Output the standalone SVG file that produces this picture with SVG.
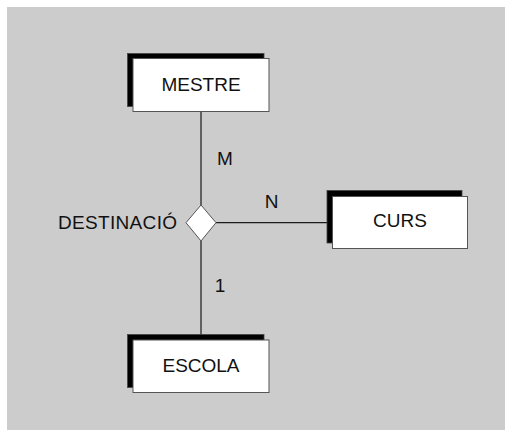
<svg xmlns="http://www.w3.org/2000/svg" width="505" height="430" viewBox="0 0 505 430">
<style>
.bg{fill:#cccccc}
.shadow{fill:#000000;stroke:#444444;stroke-width:0.8}
.box{fill:#ffffff;stroke:#555555;stroke-width:1}
.lbl{font-family:"Liberation Sans","DejaVu Sans",sans-serif;font-size:19px;fill:#111111}
.conn{stroke:#1a1a1a;stroke-width:1.2;fill:none}
.dia{fill:#ffffff;stroke:#555555;stroke-width:1}
</style>
<rect class="bg" x="7" y="7" width="498" height="423"/>
<g id="connectors">
<line class="conn" x1="201" y1="112" x2="201" y2="205"/>
<line class="conn" x1="201" y1="241" x2="201" y2="340"/>
<line class="conn" x1="216" y1="222.7" x2="332.5" y2="222.7"/>
<text class="lbl" x="225" y="164.5" text-anchor="middle">M</text>
<text class="lbl" x="271.5" y="207.5" text-anchor="middle">N</text>
<text class="lbl" x="220" y="291.5" text-anchor="middle">1</text>
</g>
<g id="mestre">
<rect class="shadow" x="127.5" y="53.5" width="136.5" height="53"/>
<rect class="box" x="133" y="58.5" width="136" height="53"/>
<text class="lbl" x="201" y="90.5" text-anchor="middle">MESTRE</text>
</g>
<g id="curs">
<rect class="shadow" x="327" y="190.5" width="135" height="52.5"/>
<rect class="box" x="332.5" y="196.5" width="135" height="52"/>
<text class="lbl" x="400" y="227" text-anchor="middle">CURS</text>
</g>
<g id="escola">
<rect class="shadow" x="127.5" y="334.5" width="136.5" height="53"/>
<rect class="box" x="133" y="340" width="136" height="52.5"/>
<text class="lbl" x="201" y="372" text-anchor="middle">ESCOLA</text>
</g>
<g id="destinacio">
<polygon class="dia" points="201,205 216,222.7 201,241 186,222.7"/>
<text class="lbl" x="177" y="228.5" text-anchor="end" textLength="119" lengthAdjust="spacing">DESTINACIÓ</text>
</g>
</svg>
